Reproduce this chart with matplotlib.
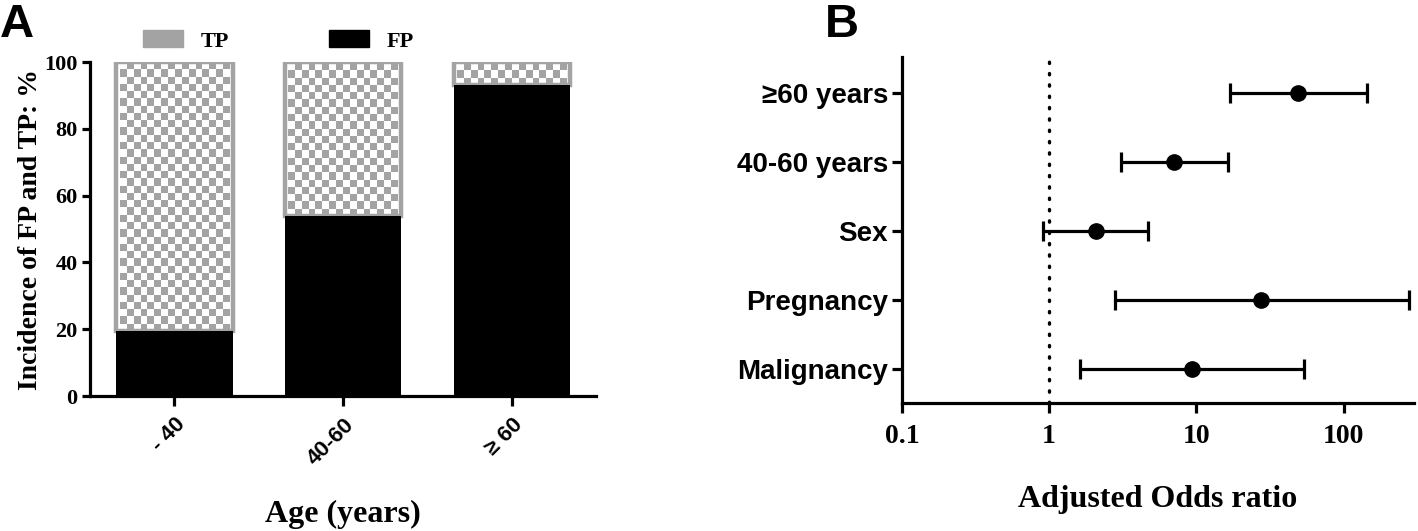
import numpy as np
import matplotlib
matplotlib.use("Agg")
import matplotlib.pyplot as plt
from matplotlib.patches import Patch

# Panel A: incidence of FP / TP by age group (%)
age_groups = ["- 40", "40-60", "\u2265 60"]
fp_pct = [19.5, 54.0, 93.0]
tp_pct = [100 - v for v in fp_pct]

# Panel B: adjusted odds ratios with 95% CI
factors = ["Malignancy", "Pregnancy", "Sex", "40-60 years", "\u226560 years"]
odds = [9.4, 27.7, 2.09, 7.08, 49.4]
ci_low = [1.62, 2.81, 0.91, 3.09, 16.9]
ci_high = [53.5, 277.0, 4.7, 16.5, 145.0]
or_ticks = [0.1, 1, 10, 100]

SERIF = ["Liberation Serif", "DejaVu Serif"]
SANS = ["Liberation Sans", "DejaVu Sans"]
GREY = "#a3a3a3"
LW = 2.3

fig = plt.figure(figsize=(14.18, 5.31), dpi=100)
axA = fig.add_axes([0.0635, 0.2542, 0.357, 0.629])
axB = fig.add_axes([0.636, 0.241, 0.361, 0.652])

# ---- panel A
x = np.arange(len(age_groups))
width = 0.69
fp_bars = axA.bar(x, fp_pct, width, color="black", zorder=3)
tp_bars = axA.bar(x, tp_pct, width, bottom=fp_pct, facecolor="white",
                  edgecolor=GREY, linewidth=3.2, zorder=2.6)
for r in tp_bars:
    r.set_fill(False)

# checkerboard fill for the TP bars
cell_h = 2.17
checker = matplotlib.colors.ListedColormap(["white", GREY])
for rect in tp_bars:
    x0, y0 = rect.get_x(), rect.get_y()
    w, h = rect.get_width(), rect.get_height()
    ncol = 16
    nrow = max(1, int(round(h / cell_h)))
    board = (np.add.outer(np.arange(nrow), np.arange(ncol)) % 2).astype(float)
    im = axA.imshow(board, extent=(x0 + 0.02, x0 + w - 0.02, y0, y0 + nrow * cell_h),
                    cmap=checker, interpolation="nearest", aspect="auto",
                    origin="lower", zorder=2.5)
    im.set_clip_path(rect)

axA.set_xlim(-0.5, 2.5)
axA.set_ylim(0, 100)
axA.set_yticks([0, 20, 40, 60, 80, 100])
axA.set_xticks(x)
axA.set_xticklabels(age_groups, rotation=45, ha="right", va="top",
                    rotation_mode="anchor", family=SANS, fontweight="bold",
                    fontsize=16)
for lab in axA.get_yticklabels():
    lab.set_family(SERIF)
    lab.set_fontweight("bold")
    lab.set_fontsize(16)
axA.spines[["top", "right"]].set_visible(False)
for s in ["left", "bottom"]:
    axA.spines[s].set_linewidth(LW)
axA.tick_params(width=LW, length=6, pad=3)
axA.tick_params(axis="x", length=7, pad=6)
axA.set_ylabel("Incidence of FP and TP: %", family=SERIF, fontweight="bold",
               fontsize=20, labelpad=1)
axA.set_xlabel("Age (years)", family=SERIF, fontweight="bold", fontsize=23,
               labelpad=22)

handles = [Patch(facecolor=GREY, edgecolor=GREY, label="TP"),
           Patch(facecolor="black", edgecolor="black", label="FP")]
axA.legend(handles=handles, loc="center left", bbox_to_anchor=(0.065, 1.063),
           ncol=2, frameon=False, handlelength=1.8, handleheight=0.8,
           columnspacing=4.5, handletextpad=0.8,
           prop={"family": SERIF, "weight": "bold", "size": 16})

fig.text(0.0, 0.995, "A", family=SANS, fontweight="bold", fontsize=34,
         ha="left", va="top")

# ---- panel B
y = np.arange(len(factors))
err = [np.array(odds) - np.array(ci_low), np.array(ci_high) - np.array(odds)]
axB.errorbar(odds, y, xerr=err, fmt="o", color="black", markersize=11,
             elinewidth=LW, capsize=7, capthick=LW, zorder=3)
axB.axvline(1, color="black", linewidth=2.4, linestyle=(0, (0.4, 3.0)),
            dash_capstyle="round", zorder=1)
axB.set_xscale("log")
axB.set_xlim(0.1, 300)
axB.set_ylim(-0.5, 4.52)
axB.set_xticks(or_ticks)
axB.set_xticklabels(["0.1", "1", "10", "100"], family=SERIF,
                    fontweight="bold", fontsize=20)
axB.xaxis.set_minor_locator(matplotlib.ticker.NullLocator())
axB.set_yticks(y)
axB.set_yticklabels(factors, family=SANS, fontweight="bold", fontsize=20)
axB.spines[["top", "right"]].set_visible(False)
for s in ["left", "bottom"]:
    axB.spines[s].set_linewidth(LW)
axB.tick_params(width=LW, length=7, pad=3)
axB.tick_params(axis="x", pad=8)
axB.set_xlabel("Adjusted Odds ratio", family=SERIF, fontweight="bold",
               fontsize=23, labelpad=26)

fig.text(0.582, 0.995, "B", family=SANS, fontweight="bold", fontsize=34,
         ha="left", va="top")

fig.savefig("out.png", dpi=100)
